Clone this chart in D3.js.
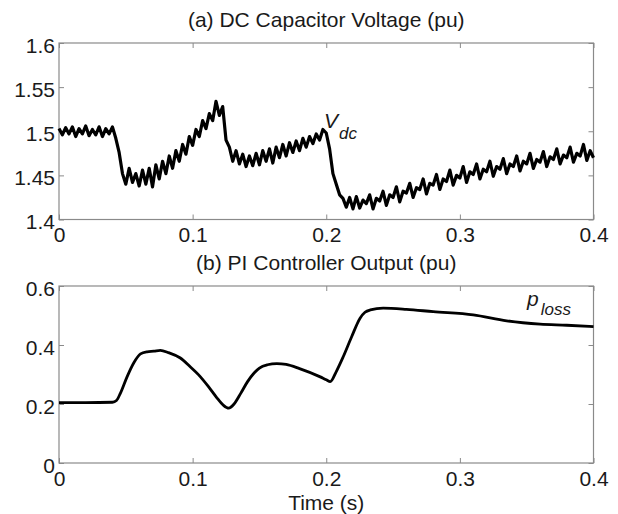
<!DOCTYPE html>
<html>
<head>
<meta charset="utf-8">
<script src="https://cdn.jsdelivr.net/npm/d3@7"></script>
<style>
  body { margin: 0; background: #fff; }
  text { font-family: "Liberation Sans", Arial, sans-serif; }
</style>
</head>
<body>
<svg id="chart" width="618" height="514"></svg>
<script>
// tick values and labels
const timeTicks = [0, 0.1, 0.2, 0.3, 0.4];
const timeTickLabels = ["0", "0.1", "0.2", "0.3", "0.4"];
const vdcTicks = [1.4, 1.45, 1.5, 1.55, 1.6];
const vdcTickLabels = ["1.4", "1.45", "1.5", "1.55", "1.6"];
const plossTicks = [0, 0.2, 0.4, 0.6];
const plossTickLabels = ["0", "0.2", "0.4", "0.6"];

// (a) DC capacitor voltage, [time s, pu]
const vdcData = [
  [0,1.503],[0.0025,1.496],[0.005,1.504],[0.0075,1.497],[0.01,1.505],[0.0125,1.494],[0.015,1.503],[0.0175,1.497],
  [0.02,1.506],[0.0225,1.495],[0.025,1.502],[0.0275,1.496],[0.03,1.505],[0.0325,1.494],[0.035,1.503],[0.0375,1.497],
  [0.04,1.505],[0.0425,1.492],[0.045,1.476],[0.0475,1.452],[0.05,1.440],[0.0525,1.458],[0.055,1.442],[0.0575,1.452],
  [0.06,1.438],[0.0625,1.456],[0.065,1.440],[0.0675,1.458],[0.07,1.437],[0.0725,1.462],[0.075,1.446],[0.0775,1.466],
  [0.08,1.452],[0.0825,1.472],[0.085,1.458],[0.0875,1.478],[0.09,1.466],[0.0925,1.485],[0.095,1.474],[0.0975,1.494],
  [0.1,1.484],[0.1025,1.502],[0.105,1.494],[0.1075,1.512],[0.11,1.503],[0.1125,1.520],[0.115,1.512],[0.1175,1.534],
  [0.12,1.518],[0.1225,1.528],[0.125,1.490],[0.1275,1.482],[0.13,1.466],[0.1325,1.478],[0.135,1.463],[0.1375,1.474],
  [0.14,1.460],[0.1425,1.472],[0.145,1.461],[0.1475,1.475],[0.15,1.462],[0.1525,1.478],[0.155,1.466],[0.1575,1.480],
  [0.16,1.464],[0.1625,1.482],[0.165,1.470],[0.1675,1.485],[0.17,1.472],[0.1725,1.487],[0.175,1.476],[0.1775,1.489],
  [0.18,1.478],[0.1825,1.492],[0.185,1.482],[0.1875,1.494],[0.19,1.486],[0.1925,1.497],[0.195,1.490],[0.1975,1.502],
  [0.2,1.498],[0.2025,1.480],[0.205,1.452],[0.2075,1.440],[0.21,1.428],[0.2125,1.424],[0.215,1.414],[0.2175,1.425],
  [0.22,1.412],[0.2225,1.426],[0.225,1.413],[0.2275,1.422],[0.23,1.418],[0.2325,1.428],[0.235,1.412],[0.2375,1.424],
  [0.24,1.421],[0.2425,1.432],[0.245,1.416],[0.2475,1.428],[0.25,1.425],[0.2525,1.437],[0.255,1.420],[0.2575,1.432],
  [0.26,1.430],[0.2625,1.441],[0.265,1.425],[0.2675,1.436],[0.27,1.434],[0.2725,1.446],[0.275,1.429],[0.2775,1.441],
  [0.28,1.439],[0.2825,1.451],[0.285,1.434],[0.2875,1.446],[0.29,1.443],[0.2925,1.456],[0.295,1.439],[0.2975,1.450],
  [0.3,1.447],[0.3025,1.460],[0.305,1.442],[0.3075,1.454],[0.31,1.451],[0.3125,1.463],[0.315,1.446],[0.3175,1.457],
  [0.32,1.454],[0.3225,1.466],[0.325,1.449],[0.3275,1.460],[0.33,1.457],[0.3325,1.469],[0.335,1.452],[0.3375,1.463],
  [0.34,1.460],[0.3425,1.472],[0.345,1.455],[0.3475,1.466],[0.35,1.463],[0.3525,1.475],[0.355,1.458],[0.3575,1.468],
  [0.36,1.465],[0.3625,1.477],[0.365,1.460],[0.3675,1.471],[0.37,1.468],[0.3725,1.480],[0.375,1.463],[0.3775,1.473],
  [0.38,1.470],[0.3825,1.482],[0.385,1.465],[0.3875,1.475],[0.39,1.472],[0.3925,1.485],[0.395,1.467],[0.3975,1.478],
  [0.4,1.470]
];

// (b) PI controller output, [time s, pu]
const plossData = [
  [0,0.205],[0.02,0.205],[0.04,0.206],[0.043,0.212],[0.046,0.237],[0.051,0.293],[0.056,0.340],[0.061,0.370],
  [0.066,0.377],[0.071,0.379],[0.0758,0.382],[0.082,0.374],[0.0908,0.356],[0.098,0.327],[0.1057,0.293],[0.112,0.258],
  [0.118,0.222],[0.123,0.196],[0.127,0.186],[0.131,0.200],[0.136,0.236],[0.141,0.275],[0.146,0.305],[0.150,0.322],
  [0.156,0.333],[0.163,0.337],[0.170,0.334],[0.180,0.320],[0.1955,0.292],[0.200,0.282],[0.203,0.276],[0.2075,0.310],
  [0.2127,0.360],[0.219,0.428],[0.2253,0.491],[0.229,0.511],[0.233,0.519],[0.2426,0.525],[0.26,0.521],[0.28,0.513],
  [0.31,0.502],[0.335,0.482],[0.36,0.471],[0.38,0.467],[0.4,0.462]
];

const svg = d3.select('#chart');
const left = 59, right = 593.5;
const fontSize = 21;

const x = d3.scaleLinear().domain([0, 0.4]).range([left, right]);

function drawPanel(top, bottom, yDomain, yTicks, yLabels, data, title, curve, lineWidth) {
  const y = d3.scaleLinear().domain(yDomain).range([bottom, top]);
  const g = svg.append('g');

  const style = sel => {
    sel.select('.domain').remove();
    sel.selectAll('.tick line').attr('stroke', '#8a8a8a');
    sel.selectAll('.tick text').attr('fill', '#1a1a1a').style('font-size', fontSize + 'px');
  };

  g.append('g').attr('transform', `translate(0,${bottom})`)
    .call(d3.axisBottom(x).tickValues(timeTicks).tickFormat((d, i) => timeTickLabels[i]).tickSize(-5).tickPadding(8))
    .call(style);
  g.append('g').attr('transform', `translate(0,${top})`)
    .call(d3.axisTop(x).tickValues(timeTicks).tickFormat('').tickSize(-5))
    .call(style);
  g.append('g').attr('transform', `translate(${left},0)`)
    .call(d3.axisLeft(y).tickValues(yTicks).tickFormat((d, i) => yLabels[i]).tickSize(-5).tickPadding(4))
    .call(style)
    .selectAll('.tick text').attr('dy', '0.45em');
  g.append('g').attr('transform', `translate(${right},0)`)
    .call(d3.axisRight(y).tickValues(yTicks).tickFormat('').tickSize(-5))
    .call(style);

  g.append('rect')
    .attr('x', left).attr('y', top)
    .attr('width', right - left).attr('height', bottom - top)
    .attr('fill', 'none').attr('stroke', '#8a8a8a').attr('stroke-width', 1.2);

  g.append('path')
    .datum(data)
    .attr('fill', 'none')
    .attr('stroke', '#000')
    .attr('stroke-width', lineWidth)
    .attr('stroke-linejoin', 'round')
    .attr('d', d3.line().x(d => x(d[0])).y(d => y(d[1])).curve(curve));

  g.append('text')
    .attr('x', (left + right) / 2).attr('y', top - 16)
    .attr('text-anchor', 'middle')
    .style('font-size', fontSize + 'px')
    .attr('fill', '#1a1a1a')
    .text(title);

  return y;
}

drawPanel(43, 219.5, [1.4, 1.6], vdcTicks, vdcTickLabels, vdcData,
  '(a) DC Capacitor Voltage (pu)', d3.curveLinear, 3.2);
drawPanel(286, 463, [0, 0.6], plossTicks, plossTickLabels, plossData,
  '(b) PI Controller Output (pu)', d3.curveMonotoneX, 2.8);

// curve labels
const vLabel = svg.append('text').attr('x', 324).attr('y', 128)
  .style('font-size', '21px').style('font-style', 'italic').attr('fill', '#1a1a1a');
vLabel.append('tspan').text('V');
vLabel.append('tspan').attr('dy', 11).attr('dx', 1).style('font-size', '17px').text('dc');

const pLabel = svg.append('text').attr('x', 527).attr('y', 306)
  .style('font-size', '21px').style('font-style', 'italic').attr('fill', '#1a1a1a');
pLabel.append('tspan').text('p');
pLabel.append('tspan').attr('dy', 9).attr('dx', 2).style('font-size', '17px').text('loss');

svg.append('text')
  .attr('x', (left + right) / 2).attr('y', 510)
  .attr('text-anchor', 'middle')
  .style('font-size', fontSize + 'px')
  .attr('fill', '#1a1a1a')
  .text('Time (s)');
</script>
</body>
</html>
